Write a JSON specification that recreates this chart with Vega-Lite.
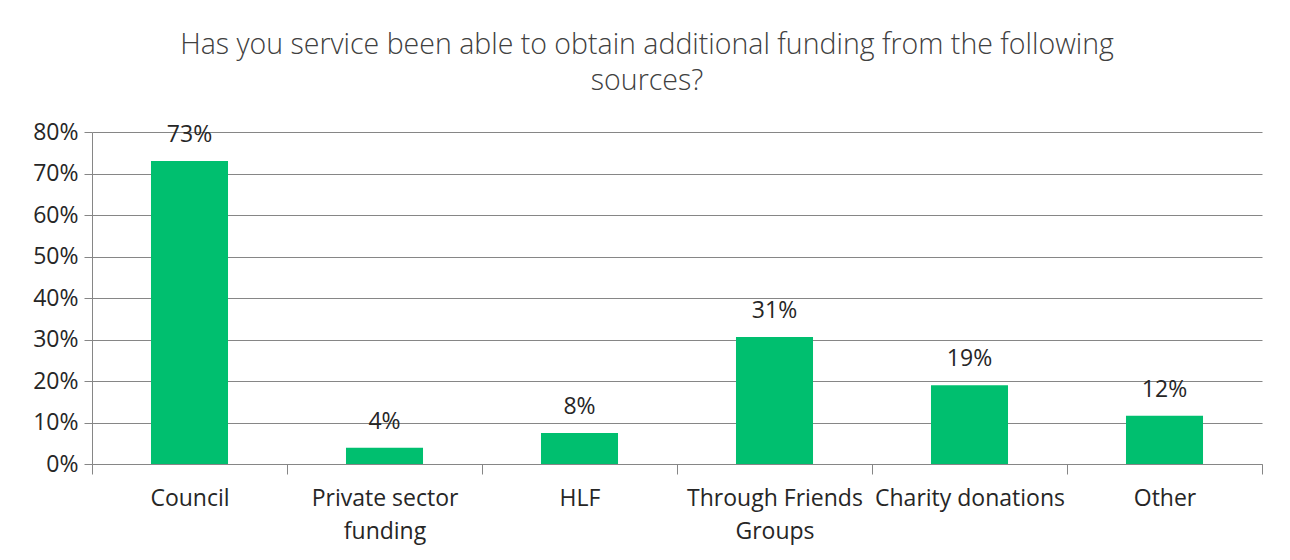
{
  "$schema": "https://vega.github.io/schema/vega-lite/v6.json",
  "autosize": {"type": "none"},
  "width": 1170,
  "height": 332,
  "padding": {"left": 92, "top": 132, "right": 28, "bottom": 96},
  "background": "white",
  "title": {
    "text": ["Has you service been able to obtain additional funding from the following", "sources?"],
    "fontSize": 28.5,
    "font": "Open Sans",
    "fontWeight": 300,
    "color": "#404040",
    "lineHeight": 36,
    "anchor": "middle",
    "dx": -30,
    "offset": 26
  },
  "data": {
    "values": [
      {"source": "Council", "value": 0.73},
      {"source": "Private sector|funding", "value": 0.039},
      {"source": "HLF", "value": 0.075},
      {"source": "Through Friends|Groups", "value": 0.306},
      {"source": "Charity donations", "value": 0.19},
      {"source": "Other", "value": 0.116}
    ]
  },
  "encoding": {
    "x": {
      "field": "source",
      "type": "nominal",
      "sort": null,
      "scale": {"paddingInner": 0, "paddingOuter": 0},
      "axis": {
        "title": null,
        "labelAngle": 0,
        "labelExpr": "split(datum.label, '|')",
        "labelFont": "Open Sans",
        "labelFontSize": 23,
        "labelColor": "#262626",
        "labelLineHeight": 33,
        "labelPadding": 13,
        "labelBaseline": "top",
        "labelLimit": 400,
        "labelOverlap": false,
        "tickBand": "extent",
        "tickSize": 10,
        "tickColor": "#868686",
        "domainColor": "#868686",
        "grid": false
      }
    },
    "y": {
      "field": "value",
      "type": "quantitative",
      "scale": {"domain": [0, 0.8]},
      "axis": {
        "title": null,
        "format": ".0%",
        "values": [0, 0.1, 0.2, 0.3, 0.4, 0.5, 0.6, 0.7, 0.8],
        "labelOverlap": false,
        "labelFont": "Open Sans",
        "labelFontSize": 23,
        "labelColor": "#262626",
        "labelPadding": 6,
        "tickSize": 8,
        "tickColor": "#868686",
        "domainColor": "#868686",
        "gridColor": "#868686",
        "gridWidth": 1
      }
    }
  },
  "layer": [
    {"mark": {"type": "bar", "color": "#00BF6F", "width": {"band": 0.395}}},
    {
      "mark": {"type": "text", "baseline": "bottom", "dy": -14, "font": "Open Sans", "fontSize": 23, "color": "#262626"},
      "encoding": {"text": {"field": "value", "type": "quantitative", "format": ".0%"}}
    }
  ],
  "config": {"view": {"stroke": null}}
}
